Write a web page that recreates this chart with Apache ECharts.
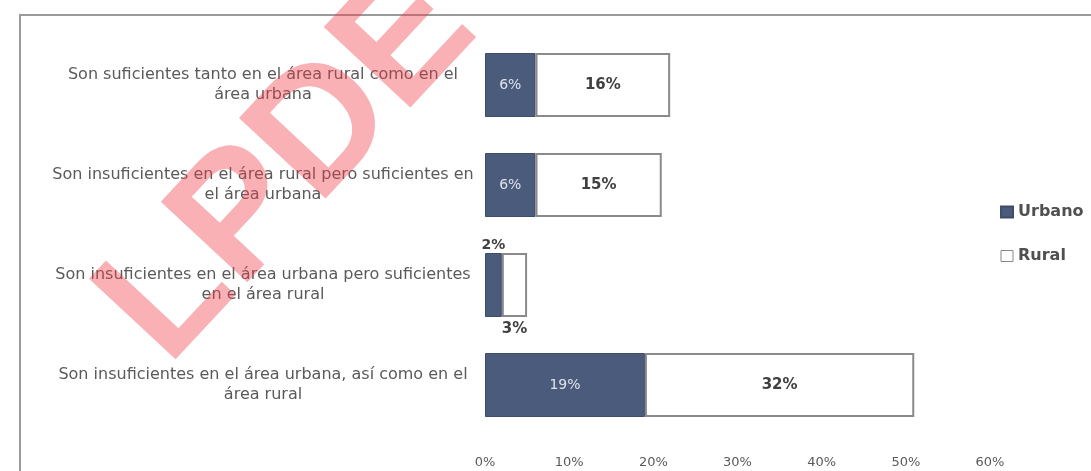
<!DOCTYPE html>
<html>
<head>
<meta charset="utf-8">
<script src="https://cdn.jsdelivr.net/npm/echarts@6/dist/echarts.min.js"></script>
<style>
  html, body { margin: 0; padding: 0; background: #fff; }
  #chart { width: 1091px; height: 471px; }
</style>
</head>
<body>
<div id="chart"></div>
<script>
// Opinion categories (top to bottom)
const categories = [
  'Son suficientes tanto en el área rural como en el\nárea urbana',
  'Son insuficientes en el área rural pero suficientes en\nel área urbana',
  'Son insuficientes en el área urbana pero suficientes\nen el área rural',
  'Son insuficientes en el área urbana, así como en el\nárea rural'
];
// Shares in percent
const urbano = [6, 6, 2, 19];
const rural = [16, 15, 3, 32];
const xTicks = [0, 10, 20, 30, 40, 50, 60];

const chart = echarts.init(document.getElementById('chart'));

const textGray = '#5a5a5a';
const urbanColor = '#4b5b7b';

// Very short bars carry their labels outside the bar
function urbanData() {
  return urbano.map(v => v < 4 ? {
    value: v,
    label: { position: 'top', color: '#404040', fontWeight: 'bold', distance: 1 }
  } : v);
}
function ruralData() {
  return rural.map(v => v < 4 ? {
    value: v,
    label: { position: 'bottom', color: '#404040', distance: 5 }
  } : v);
}

chart.setOption({
  animation: false,
  backgroundColor: '#ffffff',
  grid: { left: 485, right: 101, top: 35, bottom: 36, containLabel: false },
  legend: {
    orient: 'vertical',
    left: 995,
    top: 199,
    itemWidth: 12,
    itemHeight: 11,
    itemGap: 28,
    icon: 'rect',
    textStyle: { fontFamily: 'DejaVu Sans', fontSize: 16, fontWeight: 'bold', color: '#505050' },
    data: [
      { name: 'Urbano', itemStyle: { color: urbanColor } },
      { name: 'Rural', itemStyle: { color: '#fff', borderColor: '#888', borderWidth: 1 } }
    ]
  },
  xAxis: {
    type: 'value',
    min: xTicks[0],
    max: xTicks[xTicks.length - 1],
    interval: 10,
    axisLine: { show: false },
    axisTick: { show: false },
    splitLine: { show: false },
    axisLabel: {
      formatter: '{value}%',
      margin: 21,
      fontFamily: 'DejaVu Sans',
      fontSize: 13,
      color: textGray
    }
  },
  yAxis: {
    type: 'category',
    inverse: true,
    data: categories,
    axisLine: { show: false },
    axisTick: { show: false },
    axisLabel: {
      align: 'center',
      margin: 222,
      lineHeight: 20,
      fontFamily: 'DejaVu Sans',
      fontSize: 16,
      color: textGray
    }
  },
  series: [
    {
      name: 'Urbano',
      type: 'bar',
      stack: 'total',
      barWidth: 64,
      data: urbanData(),
      itemStyle: { color: urbanColor, borderColor: '#3f4d68', borderWidth: 1 },
      label: {
        show: true,
        position: 'inside',
        formatter: '{c}%',
        fontFamily: 'DejaVu Sans',
        fontSize: 14,
        color: '#dfe4ec'
      }
    },
    {
      name: 'Rural',
      type: 'bar',
      stack: 'total',
      barWidth: 64,
      data: ruralData(),
      itemStyle: { color: '#ffffff', borderColor: '#8a8a8a', borderWidth: 2 },
      label: {
        show: true,
        position: 'inside',
        formatter: '{c}%',
        fontFamily: 'DejaVu Sans',
        fontSize: 15,
        fontWeight: 'bold',
        color: '#404040'
      }
    }
  ],
  graphic: [
    {
      type: 'rect',
      z: -1,
      shape: { x: 20, y: 15, width: 1100, height: 480 },
      style: { fill: 'none', stroke: '#9a9a9a', lineWidth: 2 }
    },
    {
      type: 'text',
      z: 100,
      x: 196,
      y: 394,
      rotation: 47 * Math.PI / 180,
      style: {
        text: 'LPDE',
        font: 'bold 172px "Liberation Sans"',
        fill: 'rgba(240, 60, 70, 0.4)',
        textAlign: 'left',
        textVerticalAlign: 'bottom'
      }
    }
  ]
});
</script>
</body>
</html>
